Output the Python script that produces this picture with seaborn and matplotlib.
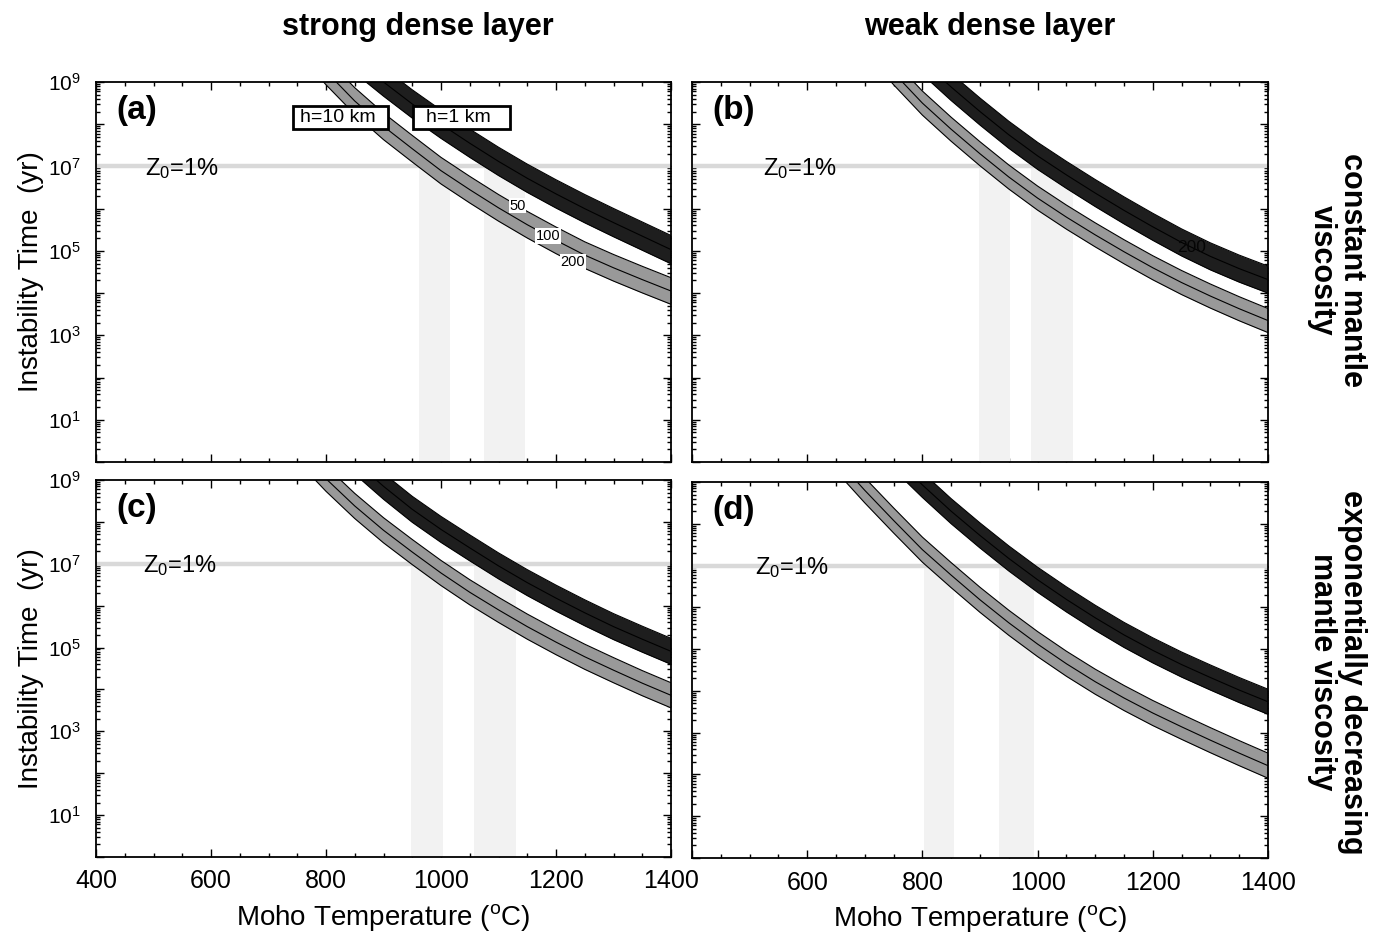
import matplotlib
matplotlib.use("Agg")
import numpy as np
import pandas as pd
import seaborn as sns
import matplotlib.pyplot as plt
from matplotlib.ticker import (FixedLocator, MultipleLocator, LogLocator,
                               FuncFormatter, NullFormatter)
from matplotlib.patches import Rectangle

# ---------------------------------------------------------------------------
# Band centre lines: Moho temperature (deg C) and log10 instability time (yr)
# ---------------------------------------------------------------------------
T_GRAY_A = [750, 800, 850, 900, 950, 1000, 1050, 1100, 1150, 1200, 1250, 1300, 1350, 1400]
LOGT_GRAY_A = [10.0, 9.25, 8.55, 7.95, 7.42, 6.90, 6.45, 6.02, 5.62, 5.25, 4.90, 4.60, 4.32, 4.05]
T_BLACK_A = [850, 900, 950, 1000, 1050, 1100, 1150, 1200, 1250, 1300, 1350, 1400]
LOGT_BLACK_A = [9.55, 9.00, 8.48, 8.00, 7.55, 7.12, 6.72, 6.35, 6.00, 5.67, 5.35, 5.03]

T_GRAY_B = [700, 750, 800, 850, 900, 950, 1000, 1050, 1100, 1150, 1200, 1250, 1300, 1350, 1400]
LOGT_GRAY_B = [10.0, 9.22, 8.50, 7.88, 7.30, 6.75, 6.25, 5.80, 5.38, 4.98, 4.60, 4.25, 3.93, 3.63, 3.35]
T_BLACK_B = [750, 800, 850, 900, 950, 1000, 1050, 1100, 1150, 1200, 1250, 1300, 1350, 1400]
LOGT_BLACK_B = [10.15, 9.50, 8.88, 8.30, 7.75, 7.25, 6.80, 6.37, 5.96, 5.57, 5.20, 4.87, 4.58, 4.32]

T_GRAY_C = [750, 800, 850, 900, 950, 1000, 1050, 1100, 1150, 1200, 1250, 1300, 1350, 1400]
LOGT_GRAY_C = [9.75, 9.03, 8.38, 7.80, 7.28, 6.78, 6.32, 5.90, 5.50, 5.13, 4.78, 4.46, 4.15, 3.86]
T_BLACK_C = [800, 850, 900, 950, 1000, 1050, 1100, 1150, 1200, 1250, 1300, 1350, 1400]
LOGT_BLACK_C = [10.1, 9.45, 8.85, 8.30, 7.82, 7.38, 6.95, 6.55, 6.18, 5.83, 5.50, 5.20, 4.91]

T_GRAY_D = [600, 650, 700, 750, 800, 850, 900, 950, 1000, 1050, 1100, 1150, 1200, 1250, 1300, 1350, 1400]
LOGT_GRAY_D = [10.35, 9.56, 8.80, 8.08, 7.38, 6.77, 6.18, 5.63, 5.12, 4.65, 4.22, 3.83, 3.47, 3.14, 2.82, 2.51, 2.21]
T_BLACK_D = [700, 750, 800, 850, 900, 950, 1000, 1050, 1100, 1150, 1200, 1250, 1300, 1350, 1400]
LOGT_BLACK_D = [10.35, 9.60, 8.93, 8.30, 7.72, 7.17, 6.66, 6.19, 5.75, 5.34, 4.97, 4.63, 4.32, 4.02, 3.74]

# half-width of each band in decades (edges at parameter 50 and 200)
GRAY_HALF = [0.315, 0.285, 0.30, 0.30]
BLACK_HALF = [0.335, 0.32, 0.31, 0.30]

# temperature windows where each band crosses the Z0 = 1% time
SHADE_A = [[962, 1016], [1074, 1146]]
SHADE_B = [[898, 952], [989, 1062]]
SHADE_C = [[948, 1003], [1058, 1130]]
SHADE_D = [[802, 854], [933, 994]]

Z0_TIME = 1e7
PANEL_LABELS = ["(a)", "(b)", "(c)", "(d)"]
COLUMN_TITLES = ["strong dense layer", "weak dense layer"]
ROW_TITLES = ["constant mantle\nviscosity", "exponentially decreasing\nmantle viscosity"]
X_TICKS = [400, 600, 800, 1000, 1200, 1400]
BOX_TEXTS = ["h=10 km", "h=1 km"]
CONTOUR_LABELS = ["50", "100", "200"]

# ---------------------------------------------------------------------------
sns.set_theme(style="ticks")
plt.rcParams["font.family"] = ["Liberation Sans", "DejaVu Sans"]
plt.rcParams["mathtext.fontset"] = "custom"
plt.rcParams["mathtext.rm"] = "Liberation Sans"
plt.rcParams["mathtext.it"] = "Liberation Sans:italic"
plt.rcParams["mathtext.bf"] = "Liberation Sans:bold"
for key in ("text.color", "axes.labelcolor", "xtick.color", "ytick.color", "axes.edgecolor"):
    plt.rcParams[key] = "black"

GRAY_FILL = "#999999"
BLACK_FILL = "#1e1e1e"
SHADE_COLOR = "#f2f2f2"
Z0_COLOR = "#d9d9d9"

W, H = 1385, 941
fig = plt.figure(figsize=(W / 100, H / 100), dpi=100)
fig.patch.set_facecolor("white")


def px_axes(left, top, right, bottom):
    return fig.add_axes([left / W, 1 - bottom / H, (right - left) / W, (bottom - top) / H])


axes = [px_axes(96, 82, 671, 462), px_axes(692, 82, 1268, 462),
        px_axes(96, 480, 671, 857), px_axes(692, 482, 1268, 858)]

panels = [
    (T_GRAY_A, LOGT_GRAY_A, T_BLACK_A, LOGT_BLACK_A, SHADE_A),
    (T_GRAY_B, LOGT_GRAY_B, T_BLACK_B, LOGT_BLACK_B, SHADE_B),
    (T_GRAY_C, LOGT_GRAY_C, T_BLACK_C, LOGT_BLACK_C, SHADE_C),
    (T_GRAY_D, LOGT_GRAY_D, T_BLACK_D, LOGT_BLACK_D, SHADE_D),
]
z0_text_x = [485, 523, 482, 509]


def odd_decades(v, pos):
    e = int(round(np.log10(v)))
    return rf"$10^{{{e}}}$" if e % 2 == 1 else ""


for i, (ax, (tg, lg, tb, lb, shades)) in enumerate(zip(axes, panels)):
    ax.set_yscale("log")
    ax.set_xlim(400, 1400)
    ax.set_ylim(1, 1e9)
    ax.set_facecolor("white")

    for lo, hi in shades:
        ax.fill_between([lo, hi], 1, Z0_TIME, color=SHADE_COLOR, lw=0, zorder=1)
    ax.axhline(Z0_TIME, color=Z0_COLOR, lw=3.2, zorder=2)

    frames = []
    for name, T, logt, half, fill in (("gray", tg, lg, GRAY_HALF[i], GRAY_FILL),
                                      ("black", tb, lb, BLACK_HALF[i], BLACK_FILL)):
        T = np.asarray(T, float)
        c = np.asarray(logt, float)
        ax.fill_between(T, 10 ** (c - half), 10 ** (c + half), color=fill, lw=0, zorder=3)
        for edge, off in (("lower", -half), ("centre", 0.0), ("upper", half)):
            frames.append(pd.DataFrame({"T": T, "time": 10 ** (c + off),
                                        "curve": f"{name}-{edge}"}))
    df = pd.concat(frames, ignore_index=True)
    sns.lineplot(data=df, x="T", y="time", units="curve", estimator=None,
                 color="black", lw=0.8, sort=False, legend=False, ax=ax, zorder=4)
    ax.set_xlim(400, 1400)
    ax.set_ylim(1, 1e9)
    ax.set_xlabel("")
    ax.set_ylabel("")

    # labels inside the panel
    ax.text(0.035, 0.965, PANEL_LABELS[i], transform=ax.transAxes, ha="left", va="top",
            fontsize=24, fontweight="bold", zorder=6)
    ax.text(z0_text_x[i], 10 ** 6.8, r"Z$_{\rm 0}$=1%", ha="left", va="baseline",
            fontsize=17, zorder=6)

    # ticks
    ax.xaxis.set_major_locator(FixedLocator(X_TICKS))
    ax.xaxis.set_minor_locator(MultipleLocator(50))
    if i == 3:
        ax.xaxis.set_major_formatter(FuncFormatter(lambda v, p: "" if v == 400 else f"{v:.0f}"))
    else:
        ax.xaxis.set_major_formatter(FuncFormatter(lambda v, p: f"{v:.0f}"))
    ax.yaxis.set_major_locator(LogLocator(base=10, numticks=20))
    ax.yaxis.set_minor_locator(LogLocator(base=10, subs=np.arange(2, 10), numticks=20))
    ax.yaxis.set_major_formatter(FuncFormatter(odd_decades))
    ax.yaxis.set_minor_formatter(NullFormatter())
    ax.tick_params(which="both", direction="in", top=True, right=True,
                   color="black", width=1.0)
    ax.tick_params(which="major", length=6)
    ax.tick_params(which="minor", length=3)
    ax.tick_params(axis="x", which="major", labelsize=18, pad=9)
    ax.tick_params(axis="y", which="major", labelsize=15, pad=11)
    if i < 2:
        ax.tick_params(axis="x", labelbottom=False)
    else:
        ax.set_xlabel(r"Moho Temperature ($^{\rm o}$C)", fontsize=20)
        ax.xaxis.set_label_coords(0.5, -0.12)
    if i % 2 == 1:
        ax.tick_params(axis="y", labelleft=False)
    else:
        ax.set_ylabel("Instability Time  (yr)", fontsize=20)
        ax.yaxis.set_label_coords(-0.09, 0.5)
    for sp in ax.spines.values():
        sp.set_visible(True)
        sp.set_linewidth(1.3)
        sp.set_color("black")
        sp.set_zorder(7)

# h labels in panel (a)
ax_a = axes[0]
for (x0, x1), txt in zip([(0.3426, 0.5078), (0.5513, 0.7200)], BOX_TEXTS):
    ax_a.add_patch(Rectangle((x0, 0.876), x1 - x0, 0.061, transform=ax_a.transAxes,
                             facecolor="white", edgecolor="black", lw=2.0, zorder=6))
    ax_a.text((x0 + x1) / 2 - 0.005, 0.9065, txt, transform=ax_a.transAxes, ha="center",
              va="center", fontsize=14, zorder=7)

# contour labels along the grey band of panel (a) and black band of panel (b)
c_a = np.asarray(LOGT_GRAY_A)
for txt, Tl, off in zip(CONTOUR_LABELS, [1133, 1186, 1229],
                        [GRAY_HALF[0], 0.0, -GRAY_HALF[0]]):
    yl = 10 ** (np.interp(Tl, T_GRAY_A, c_a) + off)
    ax_a.text(Tl, yl, txt, ha="center", va="center", fontsize=10.5, zorder=6,
              bbox=dict(boxstyle="square,pad=0.05", fc="white", ec="none"))
yb = 10 ** np.interp(1267, T_BLACK_B, LOGT_BLACK_B)
axes[1].text(1267, yb, CONTOUR_LABELS[2], ha="center", va="center", fontsize=12.5,
             color="#050505", zorder=6)

# column and row titles
for xc, txt in zip([418, 990], COLUMN_TITLES):
    fig.text(xc / W, 1 - 27 / H, txt, ha="center", va="center", fontsize=22, fontweight="bold")
for yc, txt in zip([270, 672], ROW_TITLES):
    fig.text(1337 / W, 1 - yc / H, txt, ha="center", va="center", rotation=270,
             fontsize=22, fontweight="bold", linespacing=1.0)

fig.savefig("out.png", dpi=100, facecolor="white")
